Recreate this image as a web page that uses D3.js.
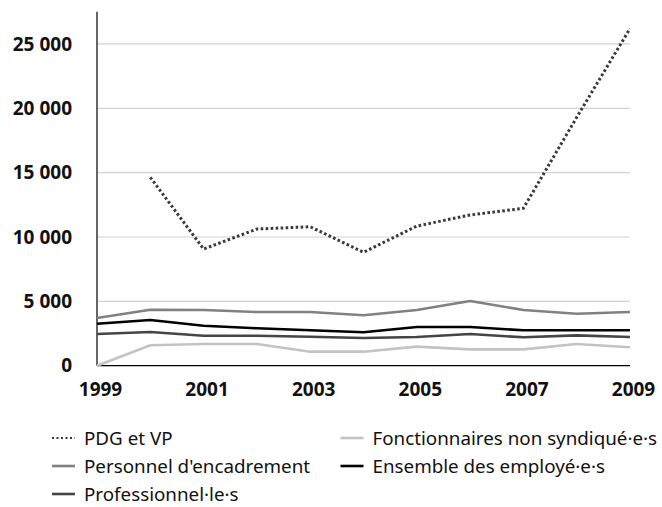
<!DOCTYPE html>
<html>
<head>
<meta charset="utf-8">
<script src="https://cdn.jsdelivr.net/npm/d3@7"></script>
<style>
  body { margin: 0; background: #fff; }
  .tick text { font-family: "Open Sans", sans-serif; font-weight: bold; }
  .legend text { font-family: "Noto Sans", sans-serif; }
</style>
</head>
<body>
<script>
var width = 662,
    height = 507;

// data
var years = [1999, 2000, 2001, 2002, 2003, 2004, 2005, 2006, 2007, 2008, 2009];
var pdgVp = [null, 14640, 9070, 10620, 10800, 8810, 10850, 11710, 12230, 19300, 26200];
var encadrement = [3710, 4350, 4330, 4170, 4170, 3920, 4330, 5030, 4330, 4040, 4170];
var professionnels = [2460, 2620, 2330, 2330, 2250, 2150, 2230, 2460, 2210, 2360, 2230];
var fonctionnaires = [0, 1590, 1690, 1690, 1090, 1090, 1480, 1270, 1270, 1690, 1430];
var ensemble = [3260, 3550, 3110, 2910, 2750, 2600, 3010, 3010, 2750, 2750, 2750];
var yTicks = [0, 5000, 10000, 15000, 20000, 25000];
var xTicks = [1999, 2001, 2003, 2005, 2007, 2009];

// draw order (back to front)
var series = [
  { name: "Fonctionnaires non syndiqué·e·s", values: fonctionnaires, color: "#c3c3c3", dash: null },
  { name: "Professionnel·le·s", values: professionnels, color: "#454545", dash: null },
  { name: "Ensemble des employé·e·s", values: ensemble, color: "#000", dash: null },
  { name: "Personnel d'encadrement", values: encadrement, color: "#818181", dash: null },
  { name: "PDG et VP", values: pdgVp, color: "#3a3a3a", dash: "2.6,2.4" }
];
var legendOrder = ["PDG et VP", "Fonctionnaires non syndiqué·e·s", "Personnel d'encadrement",
  "Ensemble des employé·e·s", "Professionnel·le·s"];

var svg = d3.select("body").append("svg").attr("width", width).attr("height", height);

var x = d3.scaleLinear().domain([1999, 2009]).range([97, 630]);
var y = d3.scaleLinear().domain([0, 27500]).range([365.7, 11.8]);

// grid
svg.append("g")
    .selectAll("line")
    .data(yTicks.filter(function(d){ return d > 0; }))
  .enter().append("line")
    .attr("x1", x(1999)).attr("x2", x(2009))
    .attr("y1", function(d){ return y(d); }).attr("y2", function(d){ return y(d); })
    .attr("stroke", "#d2d2d2").attr("stroke-width", 1.2);

// y axis
var yAxis = svg.append("g")
    .attr("transform", "translate(" + x(1999) + ",0)")
    .call(d3.axisLeft(y).tickValues(yTicks).tickSize(0).tickPadding(25)
      .tickFormat(function(d){ return d3.format(",")(d).replace(/,/g, " "); }));
yAxis.select(".domain").remove();
yAxis.selectAll(".tick text").attr("font-size", 19).attr("fill", "#111");
svg.append("line")
    .attr("x1", x(1999)).attr("x2", x(1999))
    .attr("y1", y(27500)).attr("y2", y(0))
    .attr("stroke", "#000").attr("stroke-width", 1.2);

// x axis
var xAxis = svg.append("g")
    .attr("transform", "translate(0," + y(0) + ")")
    .call(d3.axisBottom(x).tickValues(xTicks).tickSize(0).tickPadding(17).tickFormat(d3.format("d")));
xAxis.select(".domain").remove();
xAxis.selectAll(".tick text").attr("font-size", 19).attr("fill", "#111").attr("dx", 3);
svg.append("line")
    .attr("x1", x(1999)).attr("x2", x(2009))
    .attr("y1", y(0)).attr("y2", y(0))
    .attr("stroke", "#000").attr("stroke-width", 1.2);

// lines
var line = d3.line()
    .defined(function(d){ return d.v != null; })
    .x(function(d){ return x(d.year); })
    .y(function(d){ return y(d.v); });

svg.append("g")
    .selectAll("path")
    .data(series)
  .enter().append("path")
    .attr("d", function(s){
      return line(years.map(function(yr, i){ return { year: yr, v: s.values[i] }; }));
    })
    .attr("fill", "none")
    .attr("stroke", function(s){ return s.color; })
    .attr("stroke-width", function(s){ return s.dash ? 3 : 2.6; })
    .attr("stroke-dasharray", function(s){ return s.dash; })
    .attr("stroke-linejoin", "round");

// legend
var legend = svg.append("g").attr("class", "legend");
var byName = {};
series.forEach(function(s){ byName[s.name] = s; });

legend.selectAll("g")
    .data(legendOrder.map(function(n){ return byName[n]; }))
  .enter().append("g")
    .attr("transform", function(d, i){
      var col = i % 2, row = Math.floor(i / 2);
      return "translate(" + (col ? 340.5 : 52) + "," + (438 + row * 28) + ")";
    })
    .each(function(d){
      var g = d3.select(this);
      g.append("line")
          .attr("x1", 0).attr("x2", 23)
          .attr("stroke", d.color)
          .attr("stroke-width", d.dash ? 2 : 2.6)
          .attr("stroke-dasharray", d.dash ? "2,2.5" : null);
      g.append("text")
          .attr("x", 32).attr("dy", "0.35em")
          .attr("font-size", 18.8)
          .attr("fill", "#111")
          .text(d.name);
    });
</script>
</body>
</html>
